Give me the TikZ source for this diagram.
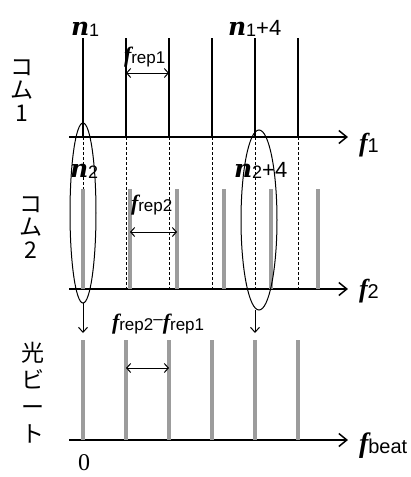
\documentclass[tikz,border=0pt]{standalone}
\usepackage{fontspec}
\setmainfont{Liberation Serif}
\setsansfont{Liberation Sans}
\newfontfamily\jpfont{Noto Sans CJK JP}
\newfontfamily\nfont{DejaVu Serif}
\usetikzlibrary{
    positioning,
    arrows.meta,
    shapes.geometric,
    calc
}
\definecolor{combgray}{HTML}{9C9C9C}

% bold italic symbol with a sans subscript
\newcommand{\sym}[4]{{\fontsize{#1}{#1}\fontseries{b}\fontshape{it}\selectfont #2}%
    \raisebox{-0.35ex}{\sffamily\fontsize{#3}{#3}\selectfont #4}}
\newcommand{\mode}[1]{{\nfont\fontsize{25}{25}\fontseries{b}\fontshape{it}\selectfont n}%
    \raisebox{-0.3ex}{\sffamily\fontsize{18}{18}\selectfont #1}}

\begin{document}
\begin{tikzpicture}[
    x=1pt, y=-1pt,
    every node/.style={inner sep=0pt, outer sep=0pt},
    axis/.style={-{Straight Barb[length=8pt,width=13pt]}, line width=1.5pt},
    combline/.style={line width=1.3pt},
    refline/.style={line width=0.9pt, dash pattern=on 3pt off 2pt},
    grayline/.style={line width=3.2pt, draw=combgray},
    span/.style={{Straight Barb[length=4pt,width=9pt]}-{Straight Barb[length=4pt,width=9pt]}, line width=1pt},
    down/.style={-{Straight Barb[length=5pt,width=9pt]}, line width=1pt},
    pick/.style={ellipse, draw, line width=1pt},
    jp/.style={font=\jpfont\fontsize{23}{23}\selectfont, align=center},
    plus/.style={font=\sffamily\fontsize{22}{22}\selectfont}
]
\useasboundingbox (0,0) rectangle (411,477);

% ---------- Axes ----------
\coordinate (a1) at (69,137);
\coordinate (a2) at (69,289);
\coordinate (a3) at (69,440);
\coordinate (e1) at (348,137);
\coordinate (e2) at (348,289);
\coordinate (e3) at (348,440);
\draw[axis] (a1) -- (e1);
\draw[axis] (a2) -- (e2);
\draw[axis] (a3) -- (e3);

% ---------- Comb 1 (black) and beat lines ----------
\foreach \i in {0,...,5} {
    \coordinate (t\i) at (83+43*\i,38);
    \coordinate (b\i) at (83+43*\i,137);
    \coordinate (d\i) at (83+43*\i,289);
    \coordinate (u\i) at (83+43*\i,340);
    \coordinate (z\i) at (83+43*\i,440);
    \draw[combline] (t\i) -- (b\i);
    \draw[refline] (b\i) -- (d\i);
    \draw[grayline] (u\i) -- (z\i);
}

% ---------- Comb 2 (gray) ----------
\foreach \i in {0,...,5} {
    \coordinate (g\i) at (83+47*\i,189);
    \coordinate (h\i) at (83+47*\i,289);
    \draw[grayline] (g\i) -- (h\i);
}

% ---------- Spacings ----------
\coordinate (s1a) at (126,73);  \coordinate (s1b) at (169,73);
\coordinate (s2a) at (130,232); \coordinate (s2b) at (177,232);
\coordinate (s3a) at (126,368); \coordinate (s3b) at (169,368);
\draw[span] (s1a) -- (s1b);
\draw[span] (s2a) -- (s2b);
\draw[span] (s3a) -- (s3b);

% ---------- Selected pairs ----------
\node[pick, minimum width=26pt, minimum height=180pt] (selA) at (83,213) {};
\node[pick, minimum width=36pt, minimum height=180pt] (selB) at (259,220) {};
\coordinate (selBout) at (255,310);
\draw[down] (selA.south) -- ($(u0)+(0,-7)$);
\draw[down] (selBout) -- ($(u4)+(0,-7)$);

% ---------- Labels ----------
\node[anchor=base west] (n1) at (71,35) {\mode{1}};
\node[anchor=base west] (n1p) at (228,35) {\mode{1}{\sffamily\fontsize{22}{22}\selectfont+4}};
\node[anchor=base west] (n2) at (70,177) {\mode{2}};
\node[anchor=base west] (n2p) at (234,177) {\mode{2}{\sffamily\fontsize{22}{22}\selectfont+4}};

\node[anchor=base west] (fr1) at (124,62) {\sym{22}{f}{17}{rep1}};
\node[anchor=base west] (fr2) at (131,210) {\sym{22}{f}{17}{rep2}};
\node[anchor=base west] (frd) at (112,329) {\sym{22}{f}{17}{rep2}{\sffamily\fontsize{17}{17}\selectfont\raisebox{0.45ex}{–}}\sym{22}{f}{17}{rep1}};

\node[anchor=base west] (f1) at (359,151) {\sym{26}{f}{20}{1}};
\node[anchor=base west] (f2) at (359,297) {\sym{26}{f}{20}{2}};
\node[anchor=base west] (fb) at (359,452) {\sym{28}{f}{20}{beat}};
\node[font=\fontsize{24}{24}\selectfont] (zero) at (84,463) {0};

\node[jp] (comb1) at (22,91) {コ\\ム\\1};
\node[jp] (comb2) at (31,228) {コ\\ム\\2};
\node[jp, font=\jpfont\fontsize{23}{27}\selectfont] (beat) at (33,393) {光\\ビ\\ー\\ト};

\end{tikzpicture}
\end{document}
